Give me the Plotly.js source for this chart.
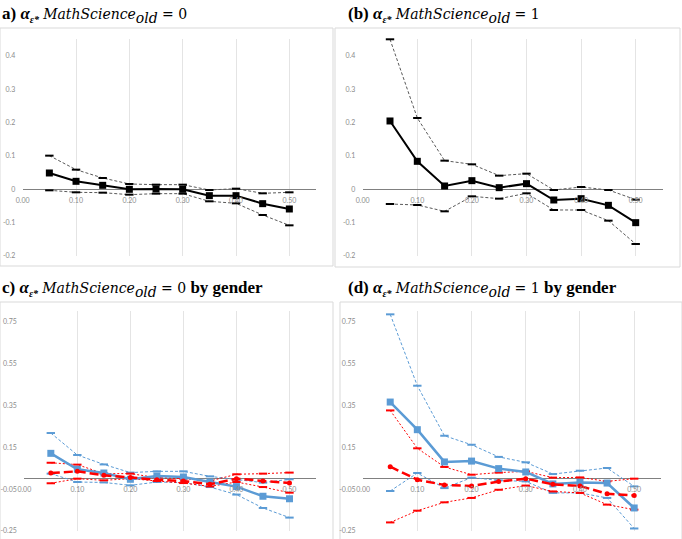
<!DOCTYPE html>
<html><head><meta charset="utf-8">
<script src="https://cdn.plot.ly/plotly-3.0.1.min.js"></script>
<style>html,body{margin:0;padding:0;background:#fff}#chart{width:682px;height:539px}</style>
</head><body><div id="chart"></div>
<script>
// thresholds (x categories)
const xs = [0.05, 0.10, 0.15, 0.20, 0.25, 0.30, 0.35, 0.40, 0.45, 0.50];

// Panel a: MathScience_old = 0
const aMain  = [0.049, 0.024, 0.012, 0.000, 0.001, 0.000, -0.019, -0.019, -0.043, -0.059];
const aUpper = [0.101, 0.059, 0.034, 0.016, 0.014, 0.014, -0.002, 0.002, -0.012, -0.009];
const aLower = [-0.003, -0.009, -0.010, -0.016, -0.013, -0.013, -0.036, -0.042, -0.077, -0.108];

// Panel b: MathScience_old = 1
const bMain  = [0.205, 0.084, 0.010, 0.026, 0.005, 0.017, -0.032, -0.028, -0.048, -0.100];
const bUpper = [0.450, 0.214, 0.086, 0.075, 0.041, 0.047, -0.002, 0.007, -0.002, -0.031];
const bLower = [-0.044, -0.047, -0.066, -0.021, -0.028, -0.012, -0.062, -0.062, -0.094, -0.164];

// Panel c: MathScience_old = 0 by gender (blue / red)
const cBlue   = [0.121, 0.045, 0.027, -0.003, 0.013, 0.008, -0.016, -0.038, -0.084, -0.096];
const cBlueUp = [0.218, 0.113, 0.068, 0.029, 0.035, 0.035, 0.011, -0.005, -0.019, -0.003];
const cBlueLo = [0.024, -0.016, -0.018, -0.032, -0.016, -0.019, -0.040, -0.076, -0.140, -0.186];
const cRed    = [0.027, 0.035, 0.016, 0.005, -0.005, -0.011, -0.027, 0.000, -0.011, -0.021];
const cRedUp  = [0.076, 0.067, 0.024, 0.024, 0.005, 0.000, -0.011, 0.021, 0.024, 0.029];
const cRedLo  = [-0.022, 0.000, -0.008, 0.000, -0.011, -0.021, -0.037, -0.016, -0.040, -0.067];

// Panel d: MathScience_old = 1 by gender
const dBlue   = [0.366, 0.234, 0.080, 0.084, 0.048, 0.032, -0.025, -0.018, -0.021, -0.140];
const dBlueUp = [0.785, 0.444, 0.205, 0.162, 0.104, 0.078, 0.022, 0.038, 0.051, -0.037];
const dBlueLo = [-0.059, 0.027, -0.045, 0.005, -0.008, -0.013, -0.068, -0.068, -0.092, -0.238];
const dRed    = [0.057, -0.005, -0.030, -0.035, -0.014, 0.000, -0.027, -0.035, -0.072, -0.080];
const dRedUp  = [0.326, 0.145, 0.056, 0.019, 0.029, 0.035, 0.005, 0.006, -0.013, 0.000];
const dRedLo  = [-0.209, -0.153, -0.113, -0.092, -0.053, -0.033, -0.061, -0.068, -0.124, -0.148];

// tick labels
const xTickVals = [0, 0.1, 0.2, 0.3, 0.4, 0.5];
const xTickText = ["0.00", "0.10", "0.20", "0.30", "0.40", "0.50"];
const yTickValsAB = [-0.2, -0.1, 0, 0.1, 0.2, 0.3, 0.4];
const yTickTextAB = ["-0.2", "-0.1", "0", "0.1", "0.2", "0.3", "0.4"];
const yTickValsCD = [-0.25, -0.05, 0.15, 0.35, 0.55, 0.75];
const yTickTextCD = ["-0.25", "-0.05", "0.15", "0.35", "0.55", "0.75"];

const SERIF = "font-family:'DejaVu Serif';font-size:14px";
const M = s => '<span style="' + SERIF + '"><i>' + s + '</i></span>';
const U = s => '<span style="' + SERIF + '">' + s + '</span>';
const alpha = '<b><i>α</i></b><sub><span style="font-size:10px"><b><i>ε*</i></b></span></sub>';
const lhs = v => alpha + " " + M("MathScience") + "<sub>" + M("old") + "</sub> " + U("= " + v);
const titles = [
  "<b>a)</b> " + lhs("0"),
  "<b>(b)</b> " + lhs("1"),
  "<b>c)</b> " + lhs("0") + " <b>by gender</b>",
  "<b>(d)</b> " + lhs("1") + " <b>by gender</b>"
];

const W = 682, H = 539;
const px = v => v / W;
const py = v => 1 - v / H;

const BLUE = '#5b9bd5', RED = '#ff0000', BLACK = '#000000', GRAY = '#595959';

function boundTrace(y, color, dash, xa, ya, mcolor) {
  return {x: xs, y: y, xaxis: xa, yaxis: ya, type: 'scatter', mode: 'lines+markers',
    line: {color: color, width: 1, dash: dash},
    marker: {symbol: 'line-ew', size: 6, line: {color: mcolor || color, width: 2}},
    cliponaxis: false, hoverinfo: 'skip', showlegend: false};
}
function mainTrace(y, color, width, dash, symbol, size, xa, ya) {
  return {x: xs, y: y, xaxis: xa, yaxis: ya, type: 'scatter', mode: 'lines+markers',
    line: {color: color, width: width, dash: dash},
    marker: {symbol: symbol, size: size, color: color},
    cliponaxis: false, showlegend: false};
}

const data = [
  boundTrace(aUpper, GRAY, '3px,2px', 'x', 'y', BLACK),
  boundTrace(aLower, GRAY, '3px,2px', 'x', 'y', BLACK),
  mainTrace(aMain, BLACK, 2, 'solid', 'square', 7, 'x', 'y'),
  boundTrace(bUpper, GRAY, '3px,2px', 'x2', 'y2', BLACK),
  boundTrace(bLower, GRAY, '3px,2px', 'x2', 'y2', BLACK),
  mainTrace(bMain, BLACK, 2, 'solid', 'square', 7, 'x2', 'y2'),
  boundTrace(cBlueUp, BLUE, '3px,2px', 'x3', 'y3'),
  boundTrace(cBlueLo, BLUE, '3px,2px', 'x3', 'y3'),
  boundTrace(cRedUp, RED, '2px,2px', 'x3', 'y3'),
  boundTrace(cRedLo, RED, '2px,2px', 'x3', 'y3'),
  mainTrace(cBlue, BLUE, 2.5, 'solid', 'square', 7, 'x3', 'y3'),
  mainTrace(cRed, RED, 2.5, '9px,4px', 'circle', 5, 'x3', 'y3'),
  boundTrace(dBlueUp, BLUE, '3px,2px', 'x4', 'y4'),
  boundTrace(dBlueLo, BLUE, '3px,2px', 'x4', 'y4'),
  boundTrace(dRedUp, RED, '2px,2px', 'x4', 'y4'),
  boundTrace(dRedLo, RED, '2px,2px', 'x4', 'y4'),
  mainTrace(dBlue, BLUE, 2.5, 'solid', 'square', 7, 'x4', 'y4'),
  mainTrace(dRed, RED, 2.5, '9px,4px', 'circle', 5, 'x4', 'y4')
];

const tickFont = {family: 'Lato, "Open Sans", sans-serif', size: 7, color: '#8c8c8c'};

// panel geometry (pixels)
const panels = [
  {xd: [22.7, 316], yd: [39.3, 256], yr: [-0.2, 0.45], yt: 'AB', box: [0, 28, 333, 266], title: [0, 15]},
  {xd: [362.7, 663], yd: [39.3, 256], yr: [-0.2, 0.45], yt: 'AB', box: [335, 28, 680, 267], title: [346, 15]},
  {xd: [24.3, 316], yd: [311.2, 531], yr: [-0.25, 0.8], yt: 'CD', box: [0, 302, 333, 545], title: [0, 289]},
  {xd: [363.1, 661.3], yd: [311.2, 531], yr: [-0.25, 0.8], yt: 'CD', box: [340, 302, 682, 545], title: [346, 289]}
];

const layout = {
  width: W, height: H, margin: {l: 0, r: 0, t: 0, b: 0},
  paper_bgcolor: '#ffffff', plot_bgcolor: 'rgba(0,0,0,0)',
  showlegend: false, shapes: [], annotations: []
};

panels.forEach((p, i) => {
  const n = i === 0 ? '' : String(i + 1);
  const yDom = [py(p.yd[1]), py(p.yd[0])];
  const zeroPos = yDom[0] + (0 - p.yr[0]) / (p.yr[1] - p.yr[0]) * (yDom[1] - yDom[0]);
  layout['xaxis' + n] = {
    domain: [px(p.xd[0]), px(p.xd[1])], range: [0, 0.55],
    anchor: 'free', position: zeroPos,
    tickvals: xTickVals, ticktext: xTickText, tickfont: tickFont,
    ticks: 'outside', ticklen: 4, tickcolor: 'rgba(0,0,0,0)',
    showgrid: true, gridcolor: '#e4e4e4', gridwidth: 1,
    zeroline: false, showline: false, fixedrange: true
  };
  layout['yaxis' + n] = {
    domain: yDom, range: p.yr, anchor: 'x' + n,
    tickvals: p.yt === 'AB' ? yTickValsAB : yTickValsCD,
    ticktext: p.yt === 'AB' ? yTickTextAB : yTickTextCD,
    tickfont: tickFont, ticks: 'outside', ticklen: 5, tickcolor: 'rgba(0,0,0,0)',
    showgrid: false, zeroline: true, zerolinecolor: '#808080', zerolinewidth: 1,
    showline: false, fixedrange: true
  };
  layout.shapes.push({type: 'rect', xref: 'paper', yref: 'paper',
    x0: px(p.box[0]), x1: px(p.box[2]), y0: py(p.box[3]), y1: py(p.box[1]),
    line: {color: '#d9d9d9', width: 1}, fillcolor: 'rgba(0,0,0,0)', layer: 'below'});
  layout.annotations.push({text: titles[i], xref: 'paper', yref: 'paper',
    x: px(p.title[0]), y: py(p.title[1]), xanchor: 'left', yanchor: 'middle',
    showarrow: false, font: {family: '"Liberation Serif", "DejaVu Serif", serif', size: 17, color: '#000'}});
});

Plotly.newPlot('chart', data, layout, {displayModeBar: false, staticPlot: true});
</script>
</body></html>
